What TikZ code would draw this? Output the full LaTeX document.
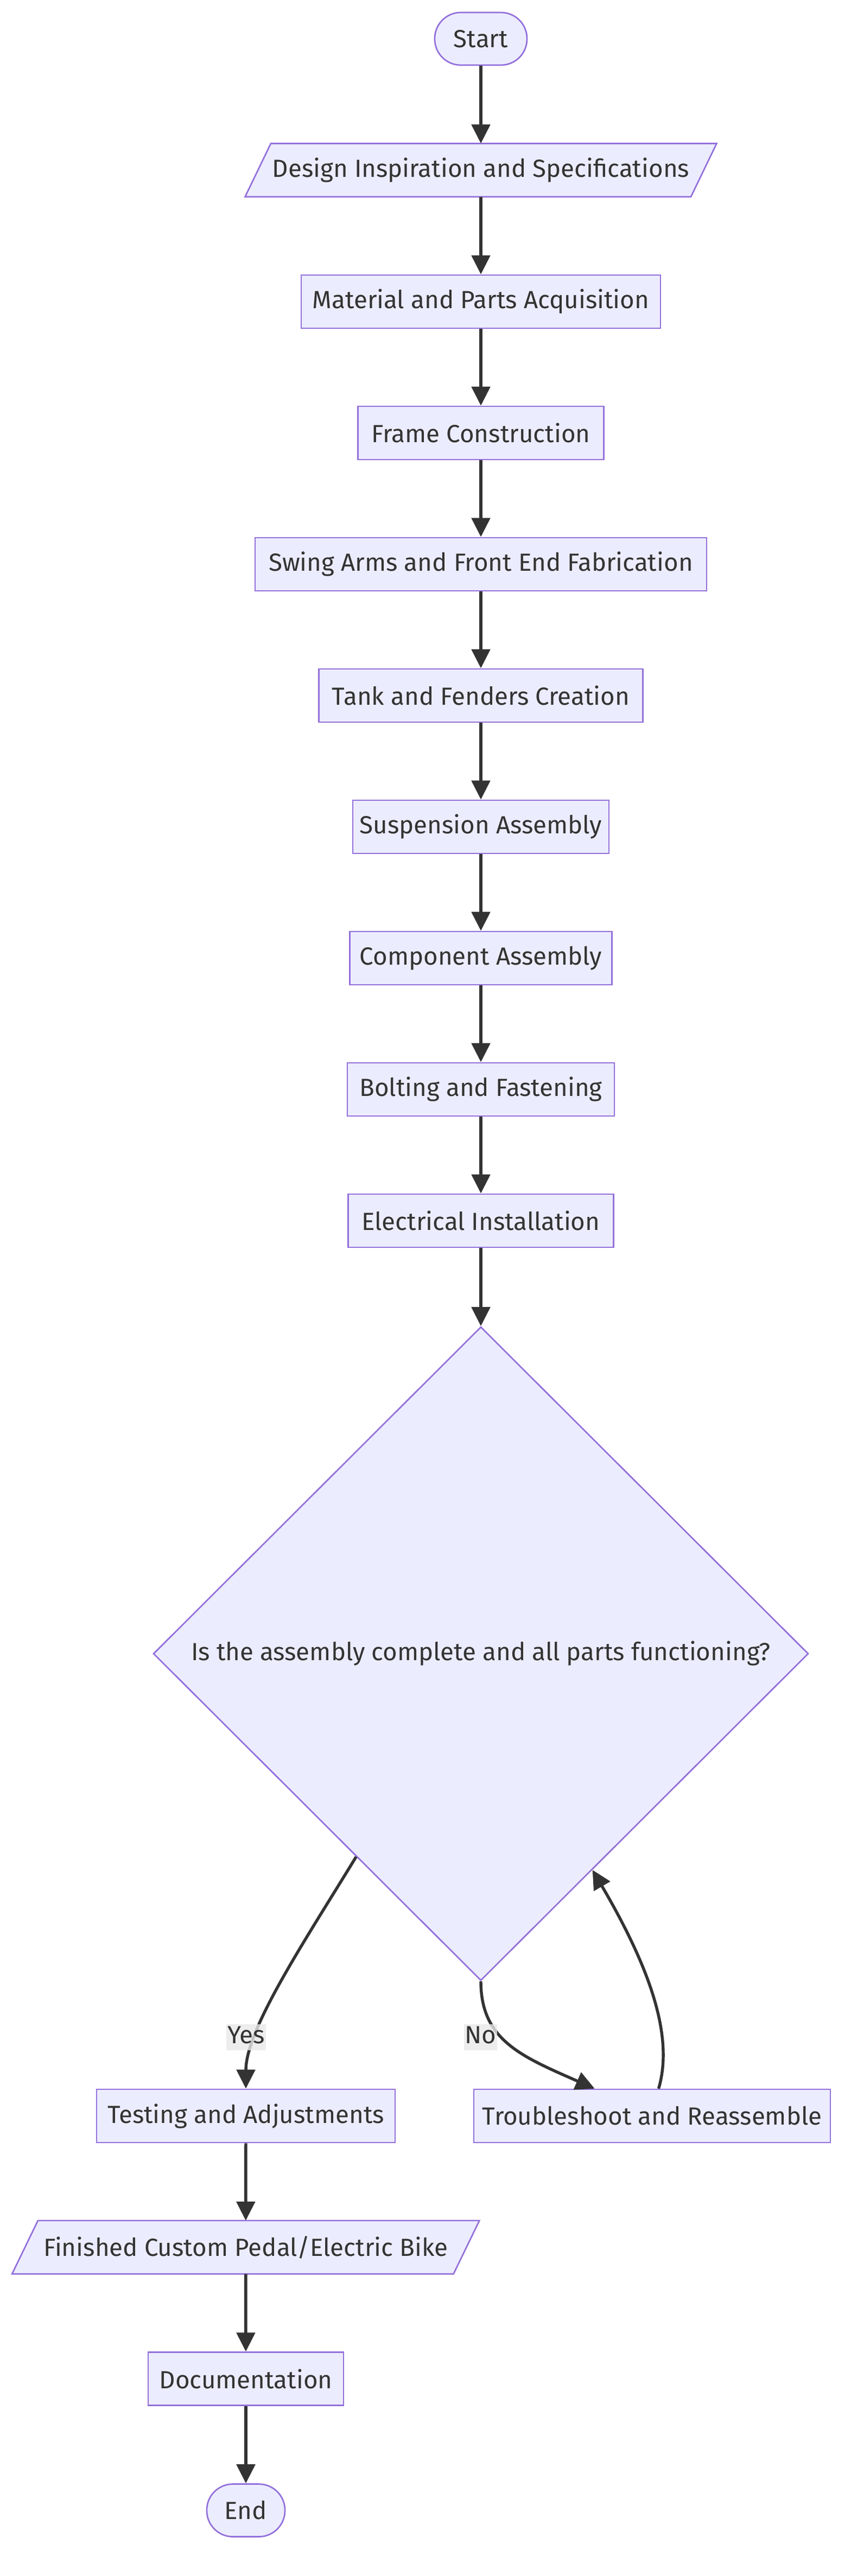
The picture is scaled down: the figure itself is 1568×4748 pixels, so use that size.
\documentclass[tikz,border=0pt]{standalone}
\usepackage{fontspec}
\setmainfont{Fira Sans}
\usetikzlibrary{arrows.meta,shapes.geometric,calc,backgrounds}
\definecolor{nfill}{HTML}{ECECFF}
\definecolor{nborder}{HTML}{9370DB}
\definecolor{ink}{HTML}{333333}
\definecolor{lblbg}{HTML}{E8E8E8}
\begin{document}
\begin{tikzpicture}[x=1pt,y=-1pt,
  every node/.style={font=\fontsize{45.7}{55}\selectfont, text=ink},
  box/.style={draw=nborder, fill=nfill, line width=2.7pt, rectangle, minimum height=98pt, inner sep=0pt},
  term/.style={box, rounded corners=48pt, minimum height=97pt},
  paranode/.style={rectangle, minimum height=98pt, inner sep=0pt},
  paraframe/.style={draw=nborder, fill=nfill, line width=2.7pt},
  decision/.style={diamond, draw=nborder, fill=nfill, line width=2.7pt, inner sep=0pt, minimum width=1207pt, minimum height=1205pt},
  flow/.style={draw=ink, line width=5.4pt, -{Triangle[length=35pt,width=34pt]}},
  lbl/.style={fill=lblbg, fill opacity=0.8, text opacity=1, inner xsep=2pt, inner ysep=2pt, text height=33pt, text depth=11pt},
]
\useasboundingbox (0,0) rectangle (1568,4748);
\node[term, minimum width=170pt] (start) at (886,71.5) {Start};
\node[paranode, minimum width=821pt] (design) at (886,313.6) {Design Inspiration and Specifications};
\node[box, minimum width=662pt] (mat) at (886,556) {Material and Parts Acquisition};
\node[box, minimum width=453pt] (frame) at (886,798) {Frame Construction};
\node[box, minimum width=832pt] (swing) at (886,1040) {Swing Arms and Front End Fabrication};
\node[box, minimum width=597pt] (tank) at (886,1282) {Tank and Fenders Creation};
\node[box, minimum width=472pt] (susp) at (886,1524) {Suspension Assembly};
\node[box, minimum width=483pt] (comp) at (886,1766) {Component Assembly};
\node[box, minimum width=492pt] (bolt) at (886,2008) {Bolting and Fastening};
\node[box, minimum width=489pt] (elec) at (886,2250) {Electrical Installation};
\node[decision] (dec) at (886,3048) {Is the assembly complete and all parts functioning?};
\node[box, minimum width=550pt] (test) at (453,3900) {Testing and Adjustments};
\node[box, minimum width=657pt] (trb) at (1201.5,3900) {Troubleshoot and Reassemble};
\node[paranode, minimum width=813pt] (fin) at (452.75,4142) {Finished Custom Pedal/Electric Bike};
\node[box, minimum width=360pt] (doc) at (453,4384.6) {Documentation};
\node[term, minimum width=144pt] (end) at (453,4627) {End};
\begin{scope}[on background layer]
\path[paraframe] ([xshift=-23.75pt]design.south west) -- ([xshift=-23.75pt]design.south east) -- ([xshift=23.75pt]design.north east) -- ([xshift=23.75pt]design.north west) -- cycle;
\path[paraframe] ([xshift=-23.85pt]fin.south west) -- ([xshift=-23.85pt]fin.south east) -- ([xshift=23.85pt]fin.north east) -- ([xshift=23.85pt]fin.north west) -- cycle;
\end{scope}
\draw[flow] (start) -- (design);
\draw[flow] (design) -- (mat);
\draw[flow] (mat) -- (frame);
\draw[flow] (frame) -- (swing);
\draw[flow] (swing) -- (tank);
\draw[flow] (tank) -- (susp);
\draw[flow] (susp) -- (comp);
\draw[flow] (comp) -- (bolt);
\draw[flow] (bolt) -- (elec);
\draw[flow] (elec) -- (dec);
\draw[flow] ($(dec.west)!0.62!(dec.south)$) .. controls (560,3580) and (453,3740) .. (test.north);
\draw[flow] (dec.south) .. controls (886,3760) and (960,3790) .. ($(trb.north west)+(224,0)$);
\draw[flow] ($(trb.north)+(12,0)$) .. controls (1240,3760) and (1205,3640) .. ($(dec.east)!0.66!(dec.south)$);
\node[lbl] (yes) at (453.5,3755) {Yes};
\node[lbl] (no) at (885.5,3755) {No};
\draw[flow] (test) -- (fin);
\draw[flow] (fin) -- (doc);
\draw[flow] (doc) -- (end);
\end{tikzpicture}
\end{document}
